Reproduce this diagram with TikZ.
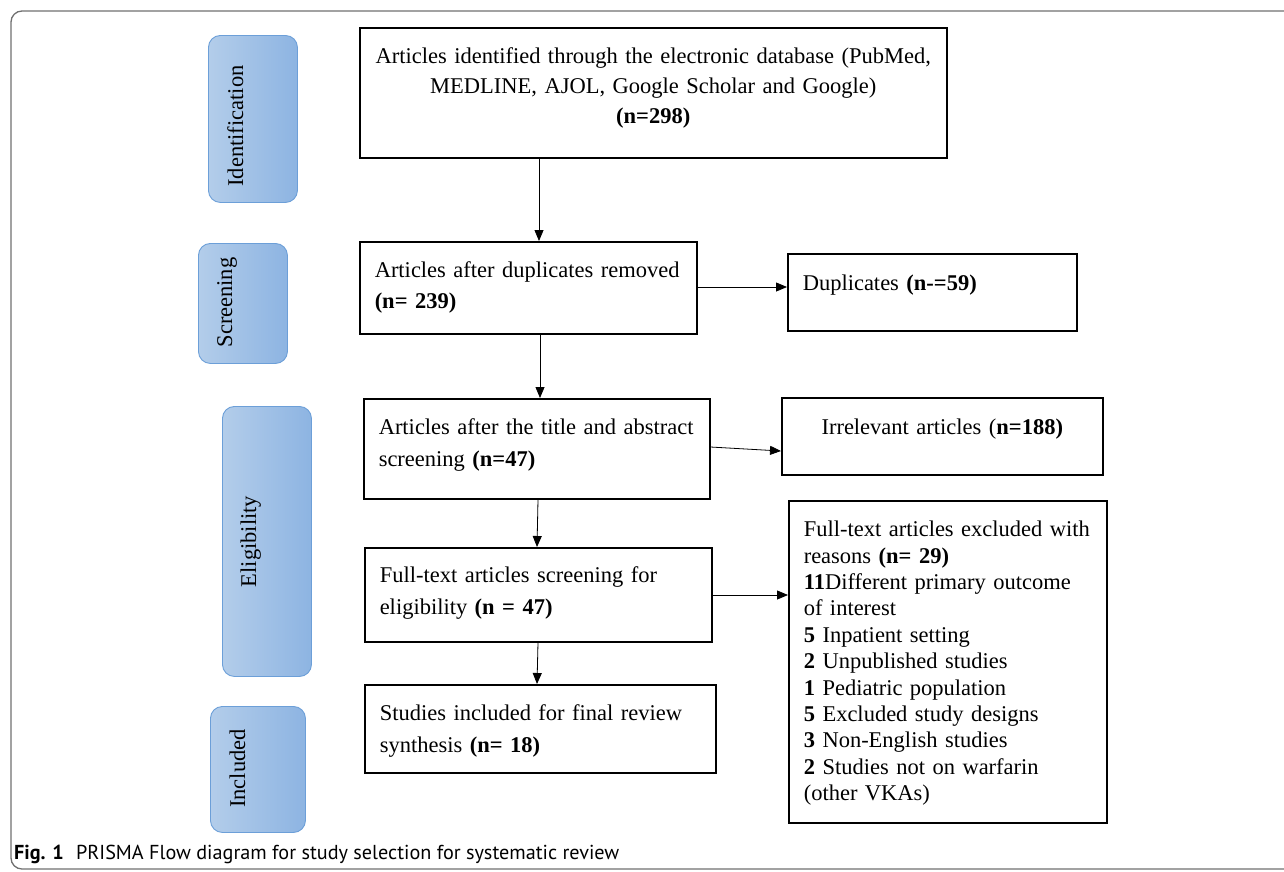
\documentclass[tikz,border=0pt]{standalone}
\usepackage{fontspec}
\setmainfont{Liberation Serif}
\newfontfamily\capfont{PT Sans}
\usetikzlibrary{arrows.meta, positioning}

\definecolor{stageleft}{HTML}{B3CDEA}
\definecolor{stageright}{HTML}{8DB4E2}
\definecolor{stageborder}{HTML}{6C9FD8}
\definecolor{framegray}{HTML}{707070}

\begin{document}
\begin{tikzpicture}[x=1pt, y=-1pt,
  box/.style={draw, line width=1.5pt, anchor=north west, inner xsep=15pt, inner ysep=0pt,
    align=left, font=\fontsize{22.5}{31}\selectfont},
  lines/.style={font=\fontsize{22.5}{#1}\selectfont},
  stage/.style={draw=stageborder, line width=0.9pt, rounded corners=12pt,
    left color=stageleft, right color=stageright, anchor=north west, inner sep=0pt},
  stagetext/.style={rotate=90, anchor=base, inner sep=0pt, font=\fontsize{22.5}{26.5}\selectfont},
  arr/.style={line width=0.8pt, -{Triangle[length=11pt, width=9pt]}}]
  \useasboundingbox (0,0) rectangle (1284,871);

  % cadre
  \begin{scope}
    \clip (0,0) rectangle (1284,871);
    \draw[framegray, line width=1.3pt, rounded corners=11pt] (11,11) rectangle (1310,869);
  \end{scope}

  % etapes
  \node[stage, minimum width=89pt, minimum height=167pt] (sident) at (208,35) {};
  \node[stage, minimum width=89pt, minimum height=120pt] (sscreen) at (198,243) {};
  \node[stage, minimum width=89pt, minimum height=270pt] (selig) at (222,406) {};
  \node[stage, minimum width=95pt, minimum height=126pt] (sincl) at (210,706) {};
  \node[stagetext] (lident) at (243,126) {Identification};
  \node[stagetext] (lscreen) at (232,302.5) {Screening};
  \node[stagetext] (lelig) at (256,541.5) {Eligibility};
  \node[stagetext] (lincl) at (245,768.5) {Included};

  % boites principales
  \node[box, lines=30, align=center, text width=557pt, text height=36pt, text depth=94pt] (ident) at (359,27)
    {Articles identified through the electronic database (PubMed,\\ MEDLINE, AJOL, Google Scholar and Google)\\ \textbf{(n=298)}};
  \node[box, lines=31, text width=307pt, text height=36pt, text depth=56pt] (dedup) at (359,241)
    {Articles after duplicates removed\\ \textbf{(n= 239)}};
  \node[box, lines=32, text width=316pt, text height=36pt, text depth=64pt] (titleabs) at (363,398)
    {Articles after the title and abstract\\ screening \textbf{(n=47)}};
  \node[box, lines=32, text width=317pt, text height=35pt, text depth=59pt] (fulltext) at (364,547)
    {Full-text articles screening for\\ eligibility \textbf{(n = 47)}};
  \node[box, lines=32, text width=321pt, text height=36pt, text depth=52pt] (incl) at (364,684)
    {Studies included for final review\\ synthesis \textbf{(n= 18)}};

  % exclusions
  \node[box, text width=259pt, text height=37pt, text depth=40pt] (dup) at (787,253)
    {Duplicates \textbf{(n-=59)}};
  \node[box, align=center, text width=291pt, text height=37pt, text depth=40pt] (irrel) at (781,397)
    {Irrelevant articles (\textbf{n=188)}};
  \node[box, lines=26.4, text width=288pt, text height=36pt, text depth=286pt] (excl) at (788,500)
    {Full-text articles excluded with\\ reasons \textbf{(n= 29)}\\
     \textbf{11}Different primary outcome\\ of interest\\
     \textbf{5} Inpatient setting\\
     \textbf{2} Unpublished studies\\
     \textbf{1} Pediatric population\\
     \textbf{5} Excluded study designs\\
     \textbf{3} Non-English studies\\
     \textbf{2} Studies not on warfarin\\ (other VKAs)};

  % fleches
  \draw[arr] (539,0 |- ident.south) -- (539,0 |- dedup.north);
  \draw[arr] (540,0 |- dedup.south) -- (540,0 |- titleabs.north);
  \draw[arr] (538,0 |- titleabs.south) -- (537,0 |- fulltext.north);
  \draw[arr] (538,0 |- fulltext.south) -- (537,0 |- incl.north);
  \draw[arr] (dedup.east |- 0,287) -- (dup.west |- 0,287);
  \draw[arr] (titleabs.east |- 0,447) -- (irrel.west |- 0,451);
  \draw[arr] (fulltext.east |- 0,595) -- (excl.west |- 0,595);

  % legende
  \node[anchor=base west, inner sep=0pt, font=\capfont\fontsize{20.2}{24}\selectfont] (cap) at (14,859)
    {\textbf{Fig. 1}\hspace{0.6em}PRISMA Flow diagram for study selection for systematic review};
\end{tikzpicture}
\end{document}
